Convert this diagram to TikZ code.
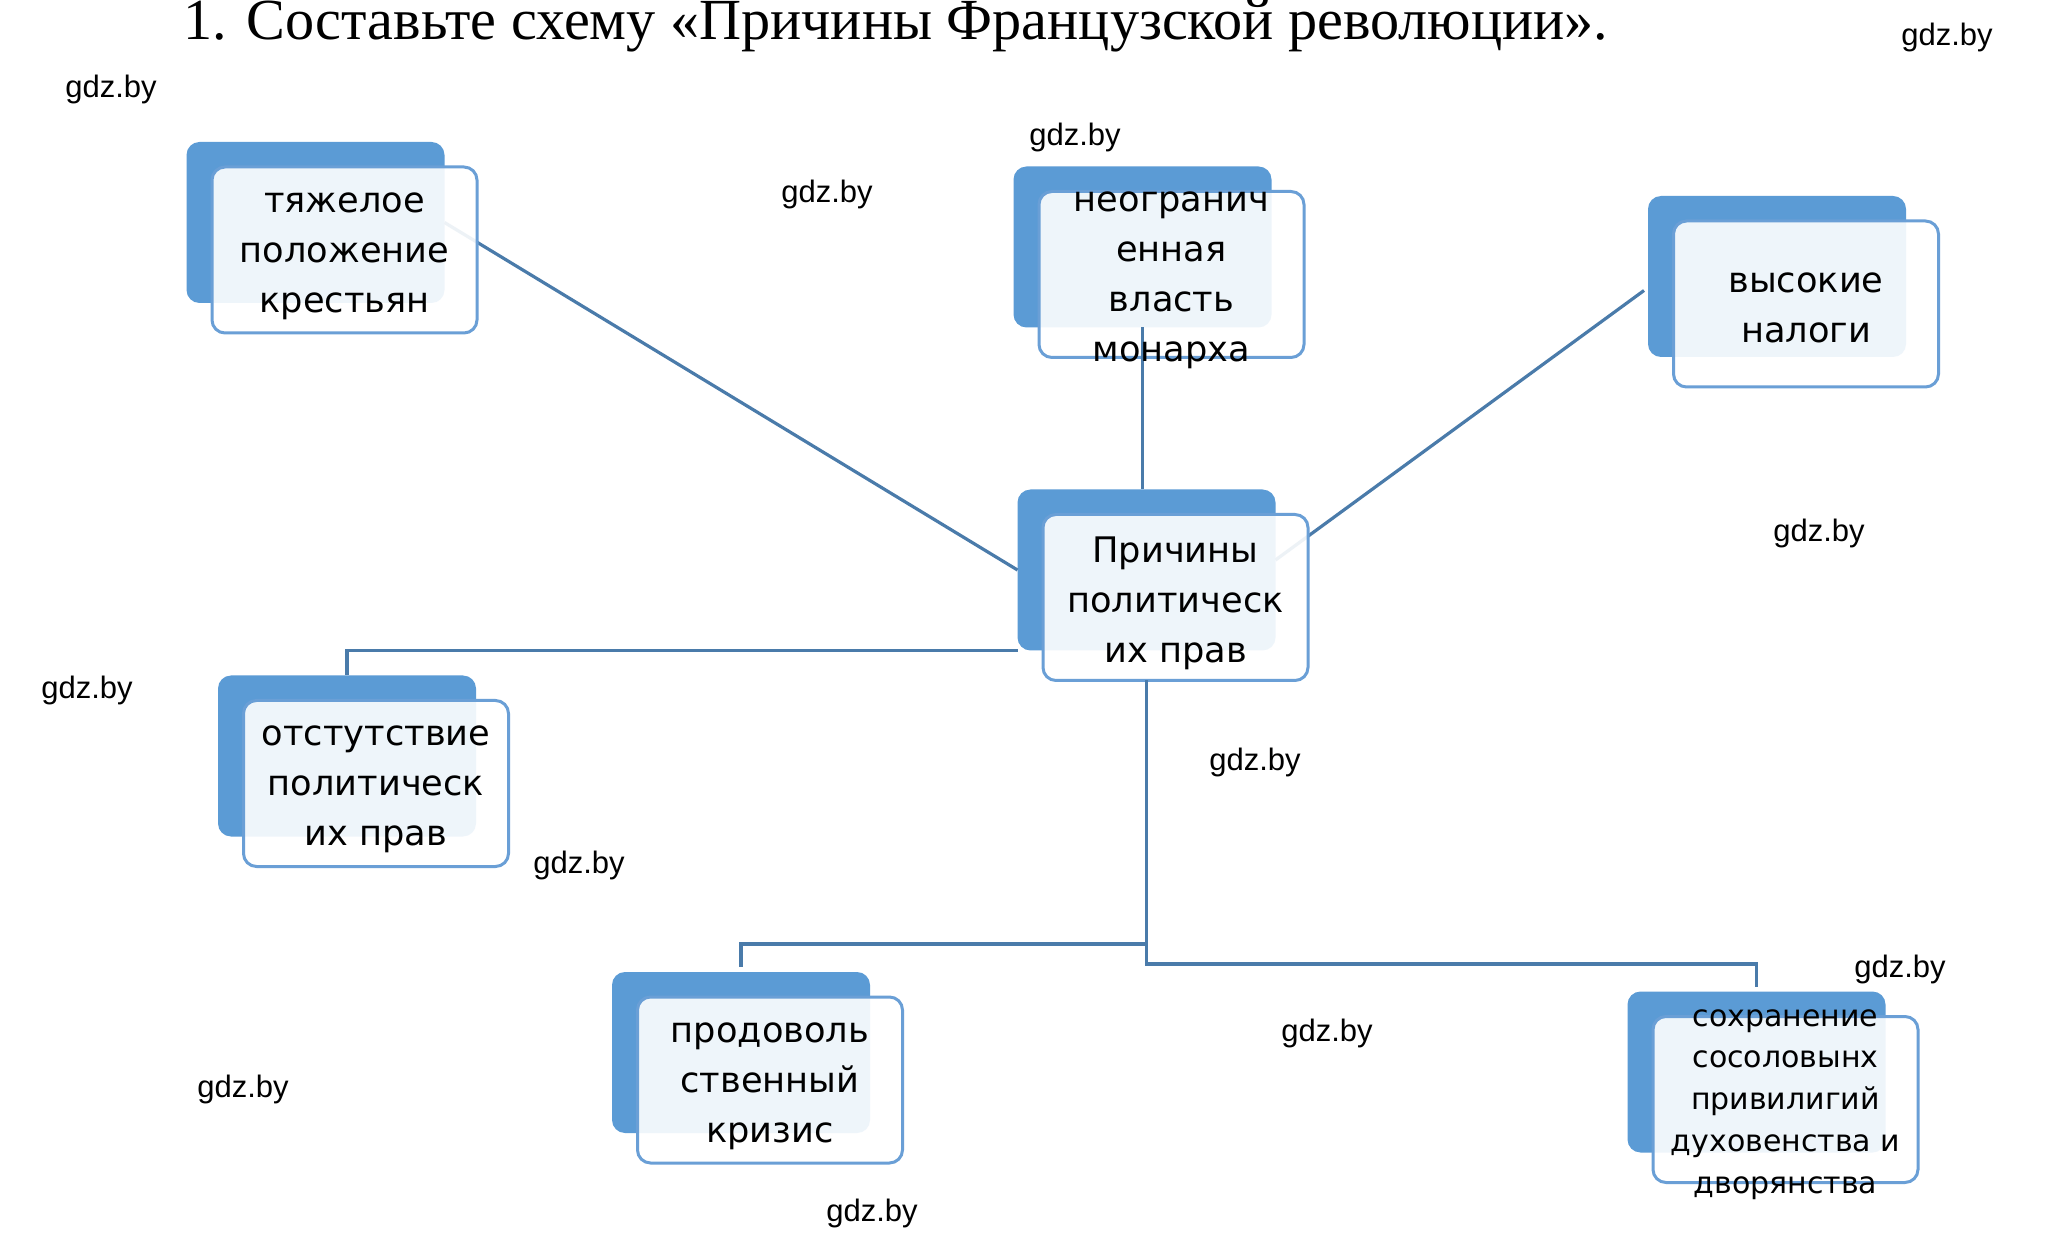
\documentclass[tikz,border=0pt]{standalone}
\usepackage{fontspec}
\usetikzlibrary{calc}
\newfontfamily\boxfont{DejaVu Sans}
\newfontfamily\wmfont{Liberation Sans}
\newfontfamily\titlefont{Liberation Serif}
\definecolor{backblue}{HTML}{5B9BD5}
\definecolor{edgeblue}{HTML}{6A9FD6}
\definecolor{linkblue}{HTML}{4A7BAA}
\begin{document}
\begin{tikzpicture}[x=0.5pt,y=-0.5pt,
 backbox/.style={draw=none, fill=backblue, rounded corners=6.5pt, minimum width=129pt, minimum height=80.5pt, inner sep=0pt, outer sep=0pt},
 frontbox/.style={draw=edgeblue, line width=1.5pt, fill=white, fill opacity=0.9, rounded corners=6.5pt, minimum width=132.5pt, minimum height=83pt, inner sep=0pt, outer sep=0pt},
 boxtext/.style={align=center, font=\boxfont\fontsize{17.6}{25}\selectfont, text=black, inner sep=0pt},
 smalltext/.style={align=center, font=\boxfont\fontsize{15}{20.9}\selectfont, text=black, inner sep=0pt},
 wm/.style={font=\wmfont\fontsize{15.5}{18}\selectfont, inner sep=0pt},
 conn/.style={draw=linkblue, line width=1.6pt}]
\useasboundingbox (0,0) rectangle (2046,1245);
\fill[white] (0,0) rectangle (2046,1245);

% title
\node[anchor=base west, inner sep=0pt, font=\titlefont\fontsize{29.1}{32}\selectfont] (title) at (183,40) {1. Составьте схему «Причины Французской революции».};

% back boxes
\node[backbox] (b1) at (315.5,222.5) {};
\node[backbox] (b2) at (1142.5,247) {};
\node[backbox] (b0) at (1146.5,570) {};
\node[backbox] (b3) at (1777,276.5) {};
\node[backbox] (b4) at (347,756) {};
\node[backbox] (b5) at (741,1052.5) {};
\node[backbox] (b6) at (1756.5,1072) {};

% connectors that pass behind the front boxes
\draw[conn] (b1.east) -- (b0.west);
\draw[conn] ($(b0.east)+(0,-10)$) -- ($(b3.west)+(-4,14)$);

% front boxes
\node[frontbox] (f1) at (344.5,250) {};
\node[frontbox] (f2) at (1171.5,274.5) {};
\node[frontbox] (f0) at (1175.5,597.5) {};
\node[frontbox] (f3) at (1806,304) {};
\node[frontbox] (f4) at (376,783.5) {};
\node[frontbox] (f5) at (770,1080) {};
\node[frontbox] (f6) at (1785.5,1099.5) {};

% other connectors
\draw[conn] (b2.south) -- (b2.south |- b0.north);
\draw[conn] (b0.south west) -| (b4.north);
\draw[conn] (b0.south |- f0.south) -- (b0.south |- 0,964) -| ($(b6.north)+(0,-5)$);
\draw[conn] (b0.south |- 0,944) -| ($(b5.north)+(0,-5)$);

% texts
\node[boxtext] (t1) at ($(f1.center)+(0,6)$) {тяжелое\\положение\\крестьян};
\node[boxtext] (t2) at ($(f2.center)+(0,6)$) {неогранич\\енная\\власть\\монарха};
\node[boxtext] (t0) at ($(f0.center)+(0,6)$) {Причины\\политическ\\их прав};
\node[boxtext] (t3) at ($(f3.center)+(0,4)$) {высокие\\налоги};
\node[boxtext] (t4) at ($(f4.center)+(0,6)$) {отстутствие\\политическ\\их прав};
\node[boxtext] (t5) at ($(f5.center)+(0,6)$) {продоволь\\ственный\\кризис};
\node[smalltext] (t6) at ($(f6.center)+(0,5)$) {сохранение\\сосоловынх\\привилигий\\духовенства и\\дворянства};

% watermarks
\node[wm] (w1) at (1947,37) {gdz.by};
\node[wm] (w2) at (111,89) {gdz.by};
\node[wm] (w3) at (1075,137) {gdz.by};
\node[wm] (w4) at (827,194) {gdz.by};
\node[wm] (w5) at (1819,533) {gdz.by};
\node[wm] (w6) at (87,690) {gdz.by};
\node[wm] (w7) at (1255,762) {gdz.by};
\node[wm] (w8) at (579,865) {gdz.by};
\node[wm] (w9) at (1900,969) {gdz.by};
\node[wm] (w10) at (1327,1033) {gdz.by};
\node[wm] (w11) at (243,1089) {gdz.by};
\node[wm] (w12) at (872,1213) {gdz.by};
\end{tikzpicture}
\end{document}
